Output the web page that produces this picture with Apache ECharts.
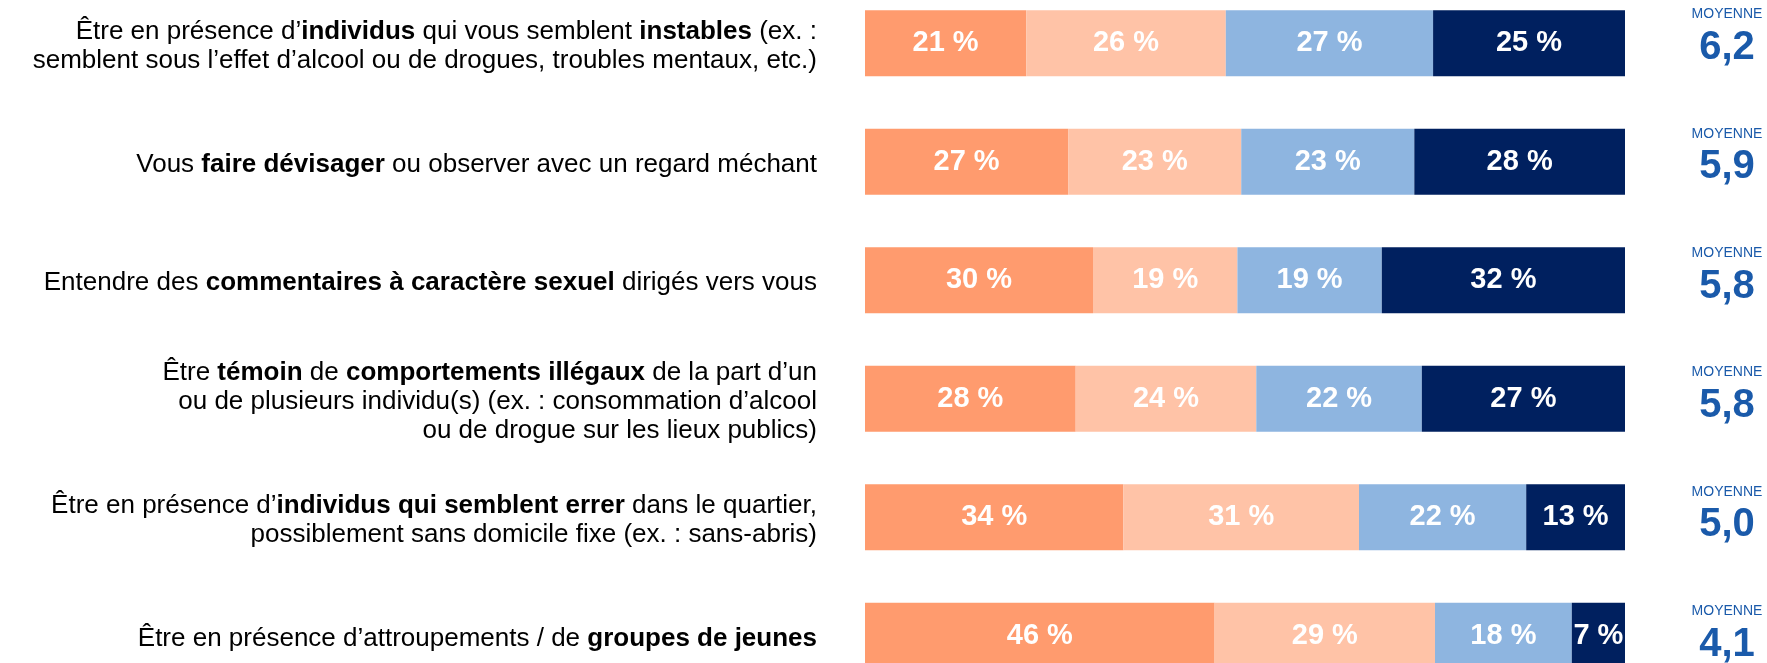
<!DOCTYPE html>
<html>
<head>
<meta charset="utf-8">
<script src="https://cdn.jsdelivr.net/npm/echarts@6/dist/echarts.min.js"></script>
<style>
html,body{margin:0;padding:0;background:#fff;overflow:hidden;}
#chart{width:1767px;height:663px;}
</style>
</head>
<body>
<div id="chart"></div>
<script>
// Categories (** marks bold phrases, \n marks line breaks)
const categories = [
  "Être en présence d’**individus** qui vous semblent **instables** (ex. :\nsemblent sous l’effet d’alcool ou de drogues, troubles mentaux, etc.)",
  "Vous **faire dévisager** ou observer avec un regard méchant",
  "Entendre des **commentaires à caractère sexuel** dirigés vers vous",
  "Être **témoin** de **comportements illégaux** de la part d’un\nou de plusieurs individu(s) (ex. : consommation d’alcool\nou de drogue sur les lieux publics)",
  "Être en présence d’**individus qui semblent errer** dans le quartier,\npossiblement sans domicile fixe (ex. : sans-abris)",
  "Être en présence d’attroupements / de **groupes de jeunes**"
];
const seg1 = [21, 27, 30, 28, 34, 46];
const seg2 = [26, 23, 19, 24, 31, 29];
const seg3 = [27, 23, 19, 22, 22, 18];
const seg4 = [25, 28, 32, 27, 13, 7];
const means = ["6,2", "5,9", "5,8", "5,8", "5,0", "4,1"];
const meanLabel = "MOYENNE";
const colors = ["#FF9B6E", "#FFC3A7", "#8EB5E0", "#00205F"];

const segments = [seg1, seg2, seg3, seg4];
const totals = categories.map((_, i) => segments.reduce((s, a) => s + a[i], 0));

function toRich(text) {
  return text.split("\n").map(line => {
    const parts = line.split("**");
    return parts.map((p, k) => p ? "{" + (k % 2 ? "b" : "n") + "|" + p + "}" : "").join("");
  }).join("\n");
}

const FONT = "'Liberation Sans', Arial, Helvetica, sans-serif";
const MEAN_BLUE = "#1A5AAA";
const chart = echarts.init(document.getElementById("chart"), null, {renderer: "canvas"});

const barSeries = segments.map((arr, si) => ({
  type: "bar",
  stack: "total",
  xAxisIndex: 0,
  yAxisIndex: 0,
  barWidth: 66,
  itemStyle: {color: colors[si]},
  label: {
    show: true,
    position: "inside",
    color: "#fff",
    fontFamily: FONT,
    fontWeight: "bold",
    fontSize: 29,
    formatter: p => arr[p.dataIndex] + " %"
  },
  emphasis: {disabled: true},
  data: arr.map((v, i) => v / totals[i] * 100)
}));

const option = {
  animation: false,
  backgroundColor: "#fff",
  grid: [
    {left: 865, width: 760, top: -16, height: 711, outerBoundsMode: "none", containLabel: false},
    {left: 1687, width: 80, top: -16.45, height: 716.4, outerBoundsMode: "none", containLabel: false}
  ],
  xAxis: [
    {type: "value", gridIndex: 0, min: 0, max: 100, show: false},
    {type: "value", gridIndex: 1, min: 0, max: 1, show: false}
  ],
  yAxis: [
    {
      type: "category", gridIndex: 0, inverse: true, data: categories,
      axisLine: {show: false}, axisTick: {show: false}, splitLine: {show: false},
      axisLabel: {
        margin: 48,
        align: "right",
        padding: [6, 0, 0, 0],
        formatter: v => toRich(v),
        rich: {
          n: {fontFamily: FONT, fontSize: 26, color: "#000", lineHeight: 29},
          b: {fontFamily: FONT, fontSize: 26, color: "#000", fontWeight: "bold", lineHeight: 29}
        }
      }
    },
    {
      type: "category", gridIndex: 1, inverse: true, data: categories,
      show: false
    }
  ],
  series: barSeries.concat([{
    type: "scatter",
    xAxisIndex: 1,
    yAxisIndex: 1,
    symbolSize: 0,
    clip: false,
    silent: true,
    itemStyle: {opacity: 1},
    label: {
      show: true,
      position: "inside",
      offset: [0, -7],
      align: "center",
      verticalAlign: "middle",
      opacity: 1,
      color: MEAN_BLUE,
      fontWeight: "bold",
      formatter: p => "{m|" + meanLabel + "}\n{v|" + means[p.dataIndex] + "}",
      rich: {
        m: {fontFamily: FONT, fontSize: 14, fontWeight: "normal", color: MEAN_BLUE, lineHeight: 23, align: "center"},
        v: {fontFamily: FONT, fontSize: 40, fontWeight: "bold", color: MEAN_BLUE, lineHeight: 44, align: "center"}
      }
    },
    data: categories.map((c, i) => [0.5, i])
  }])
};
chart.setOption(option);
</script>
</body>
</html>
